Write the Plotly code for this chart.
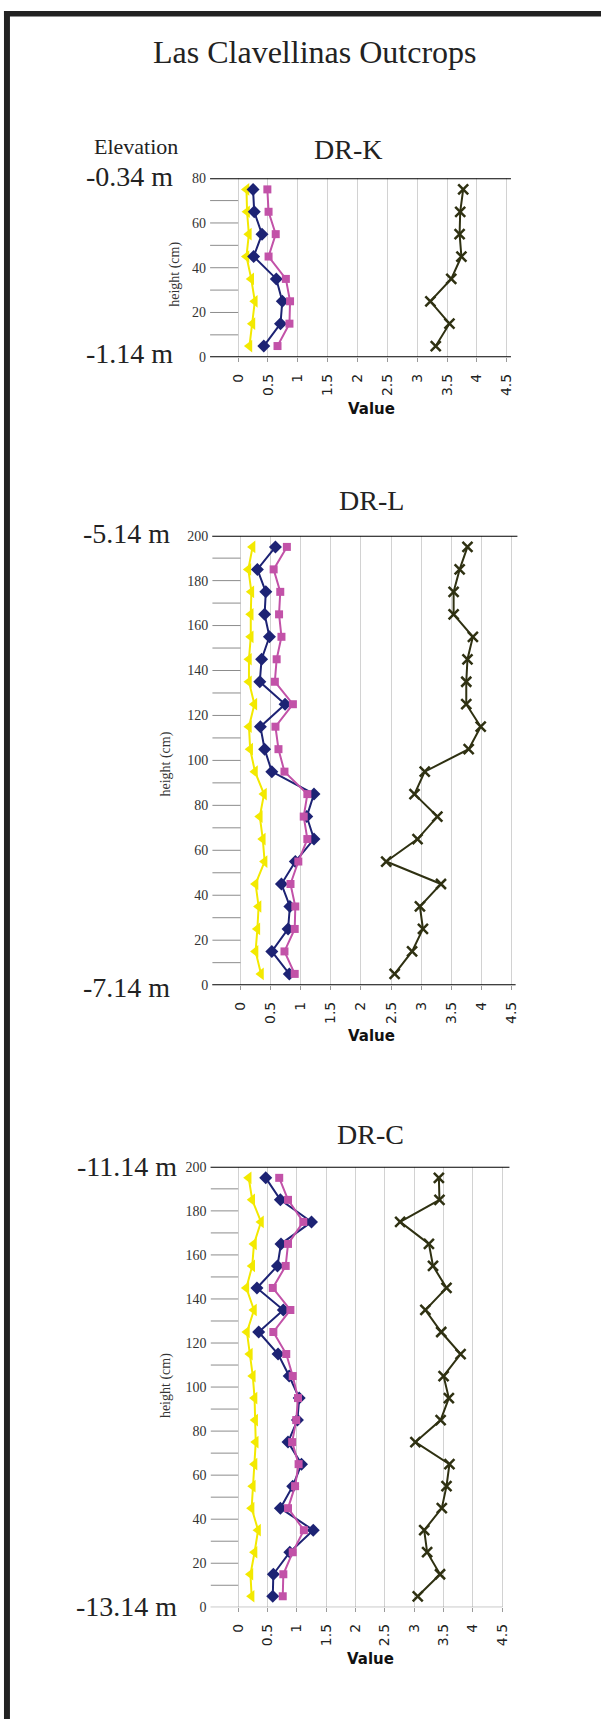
import plotly.graph_objects as go

W, H = 604, 1727

# ---------------- data ----------------
heights_K = [5, 15, 25, 35, 45, 55, 65, 75]
heights_L = [5, 15, 25, 35, 45, 55, 65, 75, 85, 95, 105, 115, 125, 135, 145, 155, 165, 175, 185, 195]
heights_C = [5, 15, 25, 35, 45, 55, 65, 75, 85, 95, 105, 115, 125, 135, 145, 155, 165, 175, 185, 195]

yellow_K = [0.19, 0.24, 0.28, 0.22, 0.14, 0.18, 0.15, 0.14]
navy_K = [0.43, 0.71, 0.74, 0.64, 0.26, 0.40, 0.27, 0.25]
magenta_K = [0.66, 0.86, 0.87, 0.80, 0.51, 0.63, 0.51, 0.49]
dark_K = [3.31, 3.54, 3.22, 3.57, 3.74, 3.71, 3.72, 3.77]

yellow_L = [0.34, 0.25, 0.28, 0.30, 0.25, 0.40, 0.37, 0.32, 0.39, 0.24,
            0.16, 0.14, 0.23, 0.14, 0.14, 0.17, 0.17, 0.18, 0.13, 0.20]
navy_L = [0.81, 0.52, 0.79, 0.82, 0.68, 0.91, 1.22, 1.10, 1.22, 0.52,
          0.40, 0.33, 0.74, 0.32, 0.35, 0.48, 0.40, 0.42, 0.28, 0.58]
magenta_L = [0.90, 0.73, 0.90, 0.91, 0.83, 0.96, 1.11, 1.05, 1.11, 0.73,
             0.63, 0.58, 0.87, 0.57, 0.60, 0.68, 0.64, 0.66, 0.55, 0.77]
dark_L = [2.56, 2.85, 3.03, 2.98, 3.33, 2.42, 2.94, 3.27, 2.89, 3.06,
          3.79, 3.99, 3.75, 3.75, 3.77, 3.86, 3.54, 3.54, 3.64, 3.77]

yellow_C = [0.23, 0.21, 0.28, 0.34, 0.23, 0.25, 0.28, 0.30, 0.29, 0.28,
            0.25, 0.20, 0.15, 0.27, 0.14, 0.24, 0.27, 0.39, 0.24, 0.18]
navy_C = [0.59, 0.60, 0.88, 1.28, 0.72, 0.93, 1.08, 0.85, 1.01, 1.04,
          0.87, 0.68, 0.35, 0.77, 0.32, 0.67, 0.73, 1.25, 0.72, 0.47]
magenta_C = [0.76, 0.77, 0.93, 1.12, 0.85, 0.97, 1.03, 0.92, 0.99, 1.02,
             0.93, 0.82, 0.60, 0.89, 0.59, 0.81, 0.85, 1.11, 0.85, 0.70]
dark_C = [3.06, 3.44, 3.22, 3.17, 3.47, 3.55, 3.60, 3.02, 3.45, 3.59,
          3.50, 3.79, 3.46, 3.19, 3.55, 3.32, 3.25, 2.76, 3.43, 3.42]

panel_titles = ["DR-K", "DR-L", "DR-C"]
elev_top = ["-0.34 m", "-5.14 m", "-11.14 m"]
elev_bot = ["-1.14 m", "-7.14 m", "-13.14 m"]
main_title = "Las Clavellinas Outcrops"
y_title = "height (cm)"
x_title = "Value"

# ---------------- styles ----------------
C_YEL, C_NAV, C_MAG, C_DRK = "#f3e900", "#1d2374", "#c252a8", "#2f3112"
SERIF = "Liberation Serif, Times New Roman, serif"
SANS = "DejaVu Sans, Verdana, sans-serif"
XR = [-0.47, 4.57]

def px(x):
    return x / W

def py(y):
    return 1 - y / H

panels = [
    dict(l=211.1, r=513.5, t=172.7, b=353.3, ymax=80, h=heights_K,
         s=[yellow_K, navy_K, magenta_K, dark_K], title_xy=(350, 143.5),
         et=(176, 171), eb=(176, 350), val=(373, 406), yt=(176, 270), topline_r=513.5, bot=("black", 2, 513.5)),
    dict(l=213.3, r=518.2, t=533.3, b=986.7, ymax=200, h=heights_L,
         s=[yellow_L, navy_L, magenta_L, dark_L], title_xy=(373, 498),
         et=(173, 531), eb=(173, 989), val=(373, 1038), yt=(167, 764), topline_r=520, bot=("black", 2, 518.2)),
    dict(l=211.6, r=508.9, t=1170, b=1614.3, ymax=200, h=heights_C,
         s=[yellow_C, navy_C, magenta_C, dark_C], title_xy=(372, 1137.5),
         et=(180, 1170), eb=(180, 1614), val=(372, 1666), yt=(167, 1391), topline_r=512, bot=("#808080", 1, 505)),
]

fig = go.Figure()
shapes = []
annotations = []

# frame
shapes.append(dict(type="rect", xref="paper", yref="paper", x0=px(4), x1=px(10), y0=py(1727), y1=py(4),
                   fillcolor="#222", line=dict(width=0), layer="above"))
shapes.append(dict(type="rect", xref="paper", yref="paper", x0=px(4), x1=px(604), y0=py(9.5), y1=py(4),
                   fillcolor="#222", line=dict(width=0), layer="above"))

annotations.append(dict(text=main_title, x=px(316), y=py(45), xref="paper", yref="paper",
                        showarrow=False, xanchor="center", yanchor="middle",
                        font=dict(family=SERIF, size=32, color="#222")))
annotations.append(dict(text="Elevation", x=px(137), y=py(140.5), xref="paper", yref="paper",
                        showarrow=False, xanchor="center", yanchor="middle",
                        font=dict(family=SERIF, size=22, color="#222")))

for i, p in enumerate(panels):
    n = "" if i == 0 else str(i + 1)
    xa, ya = "x" + n, "y" + n
    sy = [dict(color=C_YEL, sym="triangle-left", size=11),
          dict(color=C_NAV, sym="diamond", size=10),
          dict(color=C_MAG, sym="square", size=8),
          dict(color=C_DRK, sym="x-thin", size=10)]
    for vals, st in zip(p["s"], sy):
        mk = dict(symbol=st["sym"], size=st["size"], color=st["color"])
        if st["sym"] == "x-thin":
            mk["line"] = dict(color=st["color"], width=2.5)
        fig.add_trace(go.Scatter(x=vals, y=p["h"], mode="lines+markers", xaxis=xa, yaxis=ya,
                                 line=dict(color=st["color"], width=2), marker=mk,
                                 showlegend=False, cliponaxis=False))
    fig.layout["xaxis" + n] = dict(
        domain=[px(p["l"]), px(p["r"])], anchor=ya, range=XR, tick0=0, dtick=0.5,
        tickangle=-90, tickfont=dict(family=SANS, size=14, color="#222"),
        showgrid=True, gridcolor="#d2d2d2", gridwidth=1, zeroline=False, showline=False,
        ticks="outside", ticklen=4, tickcolor="#9a9a9a", ticklabelstandoff=6)
    fig.layout["yaxis" + n] = dict(
        domain=[py(p["b"]), py(p["t"])], anchor=xa, range=[0, p["ymax"]], dtick=20,
        tickfont=dict(family=SERIF, size=14, color="#333"),
        showgrid=False, zeroline=False, showline=False, ticks="", ticklabelstandoff=3)
    for v in range(10, p["ymax"], 10):
        shapes.append(dict(type="line", xref=xa, yref=ya, x0=XR[0], x1=0, y0=v, y1=v,
                           line=dict(color="#8c8c8c", width=1)))
    shapes.append(dict(type="line", xref="paper", yref=ya, x0=px(p["l"]), x1=px(p["topline_r"]),
                       y0=p["ymax"], y1=p["ymax"], line=dict(color="black", width=2)))
    bc, bw, br = p["bot"]
    shapes.append(dict(type="line", xref="paper", yref=ya, x0=px(p["l"]), x1=px(br),
                       y0=0, y1=0, line=dict(color=bc, width=bw)))
    annotations.append(dict(text=panel_titles[i], x=px(p["title_xy"][0]), y=py(p["title_xy"][1]),
                            xref="paper", yref="paper", showarrow=False, xanchor="center", yanchor="middle",
                            font=dict(family=SERIF, size=28, color="#222")))
    annotations.append(dict(text=elev_top[i], x=px(p["et"][0]), y=py(p["et"][1]),
                            xref="paper", yref="paper", showarrow=False, xanchor="right", yanchor="middle",
                            font=dict(family=SERIF, size=28, color="#222")))
    annotations.append(dict(text=elev_bot[i], x=px(p["eb"][0]), y=py(p["eb"][1]),
                            xref="paper", yref="paper", showarrow=False, xanchor="right", yanchor="middle",
                            font=dict(family=SERIF, size=28, color="#222")))
    annotations.append(dict(text="<b>" + x_title + "</b>", x=px(p["val"][0]), y=py(p["val"][1]),
                            xref="paper", yref="paper", showarrow=False, xanchor="center", yanchor="middle",
                            font=dict(family=SANS, size=15, color="#111")))
    annotations.append(dict(text=y_title, x=px(p["yt"][0]), y=py(p["yt"][1]), textangle=-90,
                            xref="paper", yref="paper", showarrow=False, xanchor="center", yanchor="middle",
                            font=dict(family=SERIF, size=14, color="#333")))

fig.update_layout(width=W, height=H, autosize=False, margin=dict(l=0, r=0, t=0, b=0),
                  paper_bgcolor="white", plot_bgcolor="white",
                  shapes=shapes, annotations=annotations)

fig.write_html("out.html", config={"displayModeBar": False},
               post_script="document.body.style.margin='0';")
